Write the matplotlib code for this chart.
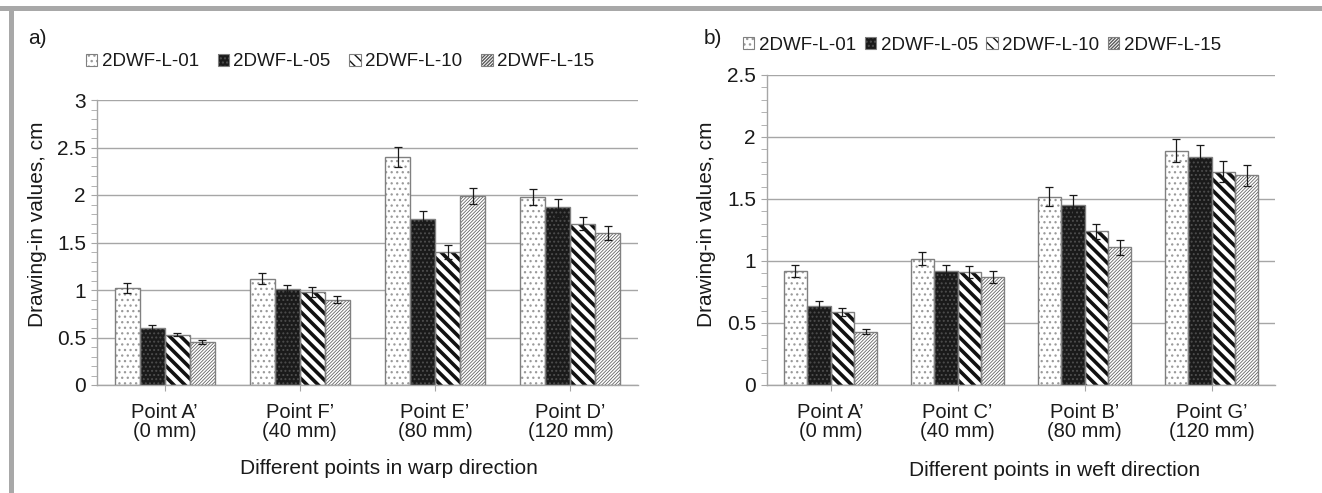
import numpy as np
import matplotlib
matplotlib.use('Agg')
import matplotlib.pyplot as plt
from matplotlib.patches import Rectangle
from matplotlib.legend_handler import HandlerTuple
from matplotlib.ticker import MultipleLocator, FuncFormatter

plt.rcParams['font.family'] = ['Liberation Sans', 'DejaVu Sans']

# ---------------- data ----------------
series = ['2DWF-L-01', '2DWF-L-05', '2DWF-L-10', '2DWF-L-15']

warp_categories = ['Point A’\n(0 mm)', 'Point F’\n(40 mm)', 'Point E’\n(80 mm)', 'Point D’\n(120 mm)']
warp_l01 = [1.02, 1.12, 2.40, 1.98]
warp_l05 = [0.60, 1.01, 1.75, 1.87]
warp_l10 = [0.53, 0.98, 1.40, 1.70]
warp_l15 = [0.45, 0.90, 1.99, 1.60]
warp_l01_err = [0.05, 0.055, 0.11, 0.085]
warp_l05_err = [0.03, 0.04, 0.08, 0.09]
warp_l10_err = [0.015, 0.05, 0.07, 0.07]
warp_l15_err = [0.02, 0.04, 0.085, 0.075]

weft_categories = ['Point A’\n(0 mm)', 'Point C’\n(40 mm)', 'Point B’\n(80 mm)', 'Point G’\n(120 mm)']
weft_l01 = [0.92, 1.02, 1.52, 1.89]
weft_l05 = [0.64, 0.92, 1.45, 1.84]
weft_l10 = [0.59, 0.91, 1.24, 1.72]
weft_l15 = [0.43, 0.87, 1.11, 1.69]
weft_l01_err = [0.05, 0.055, 0.075, 0.095]
weft_l05_err = [0.035, 0.05, 0.08, 0.095]
weft_l10_err = [0.035, 0.05, 0.06, 0.085]
weft_l15_err = [0.02, 0.05, 0.06, 0.085]

# ---------------- styles ----------------
face_colors = ['white', '#1a1a1a', 'white', 'white']
hatches = ['...', '....', '\\\\\\', '//////////']
hatch_colors = ['#9a9a9a', '#4d4d4d', '#111111', '#5a5a5a']
hatch_lws = [0.9, 0.9, 2.6, 0.55]
outline = '#808080'
grid_c = '#a6a6a6'
text_c = '#1a1a1a'

W, H = 1322, 493
fig = plt.figure(figsize=(W / 100, H / 100), dpi=100)

# frame decoration
fig.add_artist(Rectangle((0, 1 - 11 / H), 1, 5 / H, transform=fig.transFigure,
                         facecolor='#a8a8a8', edgecolor='none'))
fig.add_artist(Rectangle((9 / W, 0), 5 / W, 1 - 6 / H, transform=fig.transFigure,
                         facecolor='#a8a8a8', edgecolor='none'))


def px_axes(x0, x1, y0, y1):
    return fig.add_axes([x0 / W, 1 - y1 / H, (x1 - x0) / W, (y1 - y0) / H])


def set_hlw(patch, lw):
    try:
        patch.set_hatch_linewidth(lw)
    except AttributeError:
        pass


def draw(ax, cats, vals_list, errs_list, ymax):
    x = np.arange(len(cats))
    w = 0.185
    handles = []
    for i, (vals, errs) in enumerate(zip(vals_list, errs_list)):
        xs = x + (i - 1.5) * w
        with plt.rc_context({'hatch.linewidth': hatch_lws[i]}):
            bars = ax.bar(xs, vals, w, color=face_colors[i], edgecolor=hatch_colors[i],
                          linewidth=0, hatch=hatches[i], zorder=2)
            for b in bars:
                set_hlw(b, hatch_lws[i])
        ax.bar(xs, vals, w, fill=False, edgecolor=outline, linewidth=1.0, zorder=3)
        ax.errorbar(xs, vals, yerr=errs, fmt='none', ecolor=text_c, elinewidth=0.9,
                    capsize=3, capthick=0.9, zorder=4)
        hp = Rectangle((0, 0), 1, 1, facecolor=face_colors[i], edgecolor=hatch_colors[i],
                       linewidth=0, hatch=hatches[i])
        set_hlw(hp, min(hatch_lws[i], 1.2))
        op = Rectangle((0, 0), 1, 1, fill=False, edgecolor=outline, linewidth=0.8)
        handles.append((hp, op))
    ax.set_xlim(-0.5, len(cats) - 0.5)
    ax.set_ylim(0, ymax)
    ax.set_axisbelow(True)
    ax.yaxis.grid(True, color=grid_c, linewidth=1.0)
    ax.yaxis.set_major_locator(MultipleLocator(0.5))
    ax.yaxis.set_minor_locator(MultipleLocator(0.1))
    ax.yaxis.set_major_formatter(FuncFormatter(lambda v, p: f'{v:g}'))
    for s in ['top', 'right']:
        ax.spines[s].set_visible(False)
    for s in ['left', 'bottom']:
        ax.spines[s].set_color(grid_c)
        ax.spines[s].set_linewidth(1.0)
    ax.tick_params(axis='y', which='both', direction='out', length=4, color=grid_c,
                   labelsize=15, labelcolor=text_c, pad=4)
    ax.set_xticks(x)
    ax.set_xticklabels(cats, linespacing=1.0)
    ax.tick_params(axis='x', direction='out', length=4, color=grid_c,
                   labelsize=14.5, labelcolor=text_c, pad=9)
    return handles


ax1 = px_axes(97, 638, 100, 385)
h1 = draw(ax1, warp_categories, [warp_l01, warp_l05, warp_l10, warp_l15],
          [warp_l01_err, warp_l05_err, warp_l10_err, warp_l15_err], 3)

ax2 = px_axes(767, 1275, 75, 385)
h2 = draw(ax2, weft_categories, [weft_l01, weft_l05, weft_l10, weft_l15],
          [weft_l01_err, weft_l05_err, weft_l10_err, weft_l15_err], 2.5)

leg_kw = dict(ncol=4, frameon=False, handler_map={tuple: HandlerTuple(ndivide=1, pad=0)},
              handlelength=0.6, handleheight=0.6, handletextpad=0.25, borderpad=0,
              borderaxespad=0)
l1 = fig.legend(h1, series, loc='center', bbox_to_anchor=(340 / W, 1 - 62 / H),
                columnspacing=1.0, prop={'size': 13.5}, labelcolor=text_c, **leg_kw)
l2 = fig.legend(h2, series, loc='center', bbox_to_anchor=(982 / W, 1 - 45 / H),
                columnspacing=0.45, prop={'size': 13.5}, labelcolor=text_c, **leg_kw)

fig.text(37 / W, 1 - 38 / H, 'a)', fontsize=15, color=text_c, ha='center', va='center')
fig.text(713 / W, 1 - 38 / H, 'b)', fontsize=15, color=text_c, ha='center', va='center')

fig.text(38 / W, 1 - 224 / H, 'Drawing-in values, cm', rotation=90, fontsize=15,
         color=text_c, ha='center', va='center')
fig.text(706 / W, 1 - 224 / H, 'Drawing-in values, cm', rotation=90, fontsize=15,
         color=text_c, ha='center', va='center')
fig.text(389 / W, 1 - 469 / H, 'Different points in warp direction', fontsize=15,
         color=text_c, ha='center', va='center')
fig.text(1055 / W, 1 - 470 / H, 'Different points in weft direction', fontsize=15,
         color=text_c, ha='center', va='center')

fig.savefig('out.png', dpi=100)
